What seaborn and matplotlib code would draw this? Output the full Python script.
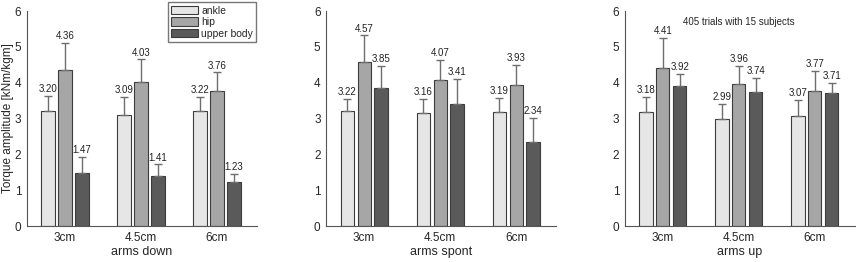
import numpy as np
import pandas as pd
import seaborn as sns
import matplotlib.pyplot as plt
from matplotlib.patches import Patch

# DATA
HEIGHTS = ["3cm", "4.5cm", "6cm"]
SEGMENTS = ["ankle", "hip", "upper body"]
CONDITIONS = ["arms down", "arms spont", "arms up"]

# mean torque amplitude, rows = height, cols = segment
ARMS_DOWN_MEAN = [[3.20, 4.36, 1.47], [3.09, 4.03, 1.41], [3.22, 3.76, 1.23]]
ARMS_SPONT_MEAN = [[3.22, 4.57, 3.85], [3.16, 4.07, 3.41], [3.19, 3.93, 2.34]]
ARMS_UP_MEAN = [[3.18, 4.41, 3.92], [2.99, 3.96, 3.74], [3.07, 3.77, 3.71]]

# upward error bar (sd)
ARMS_DOWN_SD = [[0.43, 0.76, 0.46], [0.52, 0.62, 0.31], [0.39, 0.53, 0.23]]
ARMS_SPONT_SD = [[0.32, 0.75, 0.62], [0.38, 0.56, 0.70], [0.39, 0.57, 0.68]]
ARMS_UP_SD = [[0.42, 0.85, 0.32], [0.41, 0.51, 0.39], [0.45, 0.55, 0.29]]

COLORS = ["#e6e6e6", "#a6a6a6", "#5a5a5a"]
EDGE = "#3c3c3c"
ERR = "#6e6e6e"


def make_frame(means, sds):
    rows = []
    for i, h in enumerate(HEIGHTS):
        for j, s in enumerate(SEGMENTS):
            rows.append({"height": h, "segment": s, "torque": means[i][j], "sd": sds[i][j]})
    return pd.DataFrame(rows)


def draw_panel(ax, df, xlabel):
    sns.barplot(data=df, x="height", y="torque", hue="segment", order=HEIGHTS,
                hue_order=SEGMENTS, palette=COLORS, edgecolor=EDGE, linewidth=0.8,
                width=0.67, gap=0.22, errorbar=None, legend=False, ax=ax)
    for seg, container in zip(SEGMENTS, ax.containers):
        sub = df[df["segment"] == seg].set_index("height").loc[HEIGHTS]
        for bar, mean, sd in zip(container, sub["torque"], sub["sd"]):
            xc = bar.get_x() + bar.get_width() / 2
            ax.errorbar(xc, mean, yerr=[[0], [sd]], fmt="none", ecolor=ERR,
                        elinewidth=1.0, capsize=3, capthick=1.0, zorder=1)
            ax.text(xc, mean + sd + 0.05, f"{mean:.2f}", ha="center", va="bottom",
                    fontsize=7, color="#222222")
    ax.set_ylim(0, 6)
    ax.set_xlim(-0.5, 2.53)
    ax.set_yticks(range(7))
    ax.set_xlabel(xlabel, fontsize=9, labelpad=2)
    ax.set_ylabel("")
    ax.tick_params(length=0, labelsize=8.5, pad=4)
    sns.despine(ax=ax)
    for sp in ["left", "bottom"]:
        ax.spines[sp].set_color("#555555")
        ax.spines[sp].set_linewidth(0.8)


sns.set_style("white")
plt.rcParams['font.family'] = ['Liberation Sans', 'DejaVu Sans']

fig = plt.figure(figsize=(8.56, 2.62), dpi=100)
lefts = [0.0315, 0.381, 0.730]
axes = [fig.add_axes([l, 0.137, 0.269, 0.821]) for l in lefts]

panels = [(ARMS_DOWN_MEAN, ARMS_DOWN_SD), (ARMS_SPONT_MEAN, ARMS_SPONT_SD), (ARMS_UP_MEAN, ARMS_UP_SD)]
for ax, (m, s), cond in zip(axes, panels, CONDITIONS):
    draw_panel(ax, make_frame(m, s), cond)

axes[0].set_ylabel("Torque amplitude [kNm/kgm]", fontsize=8.5)
axes[0].yaxis.set_label_coords(-0.058, 0.5)

handles = [Patch(facecolor=c, edgecolor=EDGE, linewidth=0.8, label=s) for c, s in zip(COLORS, SEGMENTS)]
axes[0].legend(handles=handles, loc="upper right", bbox_to_anchor=(0.995, 1.04), fontsize=7.5,
               frameon=True, fancybox=False, edgecolor="#555555", handlelength=2.6,
               handleheight=0.9, handletextpad=0.3, labelspacing=0.15, borderpad=0.3,
               borderaxespad=0.0)

axes[2].text(1.0, 5.68, "405 trials with 15 subjects", ha="center", va="center", fontsize=7)

fig.savefig("out.png", dpi=100)
